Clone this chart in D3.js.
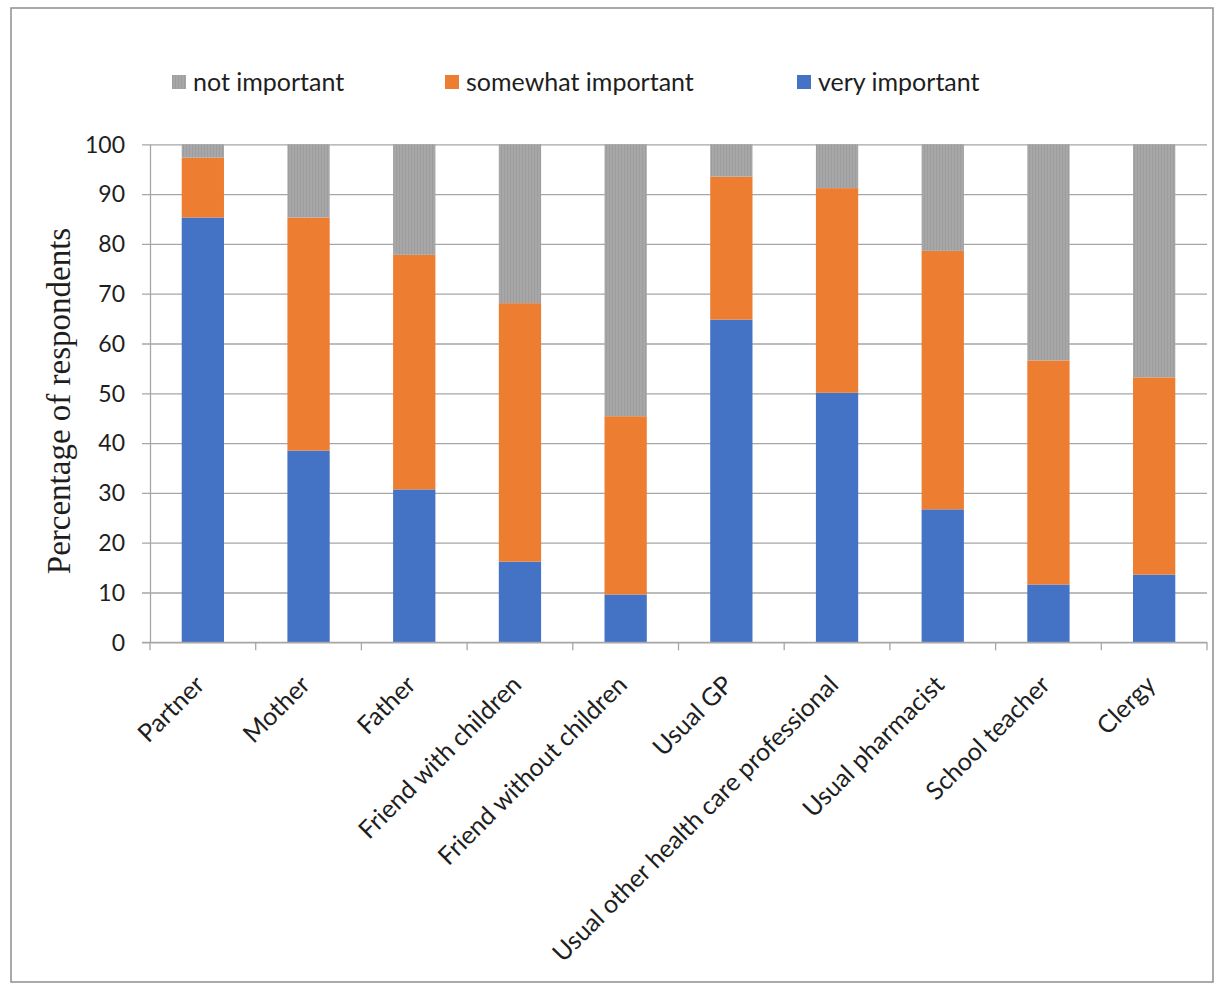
<!DOCTYPE html>
<html>
<head>
<meta charset="utf-8">
<script src="https://cdn.jsdelivr.net/npm/d3@7"></script>
<style>
  html, body { margin: 0; padding: 0; background: #fff; }
  svg { display: block; }
</style>
</head>
<body>
<svg id="chart" width="1217" height="985"></svg>
<script>
// Who matters in the decision: share of respondents by rated importance
const categories = [
  "Partner", "Mother", "Father", "Friend with children", "Friend without children",
  "Usual GP", "Usual other health care professional", "Usual pharmacist",
  "School teacher", "Clergy"
];
const veryImportant     = [85.3, 38.5, 30.7, 16.2,  9.6, 64.8, 50.1, 26.7, 11.6, 13.6];
const somewhatImportant = [12.0, 46.8, 47.1, 51.9, 35.8, 28.7, 41.1, 51.9, 45.0, 39.6];
const notImportant      = [ 2.7, 14.7, 22.2, 31.9, 54.6,  6.5,  8.8, 21.4, 43.4, 46.8];

const seriesKeys   = ["very important", "somewhat important", "not important"];
const legendOrder  = ["not important", "somewhat important", "very important"];
const yTicks       = [0, 10, 20, 30, 40, 50, 60, 70, 80, 90, 100];
const yTitle       = "Percentage of respondents";

const colors = {
  "very important": "#4472c4",
  "somewhat important": "#ed7d31",
  "not important": "url(#greyTexture)"
};

const rows = categories.map((c, i) => ({
  category: c,
  "very important": veryImportant[i],
  "somewhat important": somewhatImportant[i],
  "not important": notImportant[i]
}));

const svg = d3.select("#chart");
const sansFont = "Lato, 'Open Sans', sans-serif";
const gridColor = "#a6a6a6";
const textColor = "#1e1e1e";

// textured grey fill for the "not important" segments
const defs = svg.append("defs");
const pat = defs.append("pattern")
  .attr("id", "greyTexture")
  .attr("patternUnits", "userSpaceOnUse")
  .attr("width", 3).attr("height", 3);
pat.append("rect").attr("width", 3).attr("height", 3).attr("fill", "#a7a7a7");
pat.append("rect").attr("width", 1).attr("height", 3).attr("fill", "#9d9d9d");

// chart frame
svg.append("rect")
  .attr("x", 11).attr("y", 8)
  .attr("width", 1202).attr("height", 974)
  .attr("fill", "#fff")
  .attr("stroke", "#8e8e8e").attr("stroke-width", 1.5);

const plot = { left: 150, right: 1207, top: 144.3, bottom: 642.3 };

const x = d3.scaleBand()
  .domain(categories)
  .range([plot.left, plot.right])
  .paddingInner(0.6)
  .paddingOuter(0.3);

const y = d3.scaleLinear()
  .domain([0, 100])
  .range([plot.bottom, plot.top]);

// horizontal gridlines with short ticks left of the axis
const yAxis = d3.axisLeft(y)
  .tickValues(yTicks)
  .tickSize(-(plot.right - plot.left))
  .tickSizeOuter(0)
  .tickPadding(0)
  .tickFormat("");
const gy = svg.append("g")
  .attr("transform", `translate(${plot.left},0)`)
  .call(yAxis);
gy.select(".domain").attr("stroke", gridColor).attr("stroke-width", 1.3);
gy.selectAll(".tick line")
  .attr("x1", -8)
  .attr("stroke", gridColor).attr("stroke-width", 1.3);

// y tick labels
svg.append("g").selectAll("text")
  .data(yTicks)
  .join("text")
  .attr("x", 125)
  .attr("y", d => y(d))
  .attr("dy", "0.36em")
  .attr("text-anchor", "end")
  .attr("font-family", sansFont)
  .attr("font-size", 23)
  .attr("fill", textColor)
  .text(d => d);

// stacked bars
const stack = d3.stack().keys(seriesKeys);
const layers = stack(rows);

svg.append("g").selectAll("g")
  .data(layers)
  .join("g")
  .attr("fill", d => colors[d.key])
  .selectAll("rect")
  .data(d => d)
  .join("rect")
  .attr("x", d => x(d.data.category))
  .attr("width", x.bandwidth())
  .attr("y", d => y(d[1]))
  .attr("height", d => y(d[0]) - y(d[1]));

// x axis baseline with ticks between categories
const xAxisG = svg.append("g");
xAxisG.append("line")
  .attr("x1", plot.left - 8).attr("x2", plot.right)
  .attr("y1", plot.bottom).attr("y2", plot.bottom)
  .attr("stroke", gridColor).attr("stroke-width", 1.3);
const boundaries = d3.range(categories.length + 1)
  .map(i => plot.left + i * x.step());
xAxisG.selectAll("line.tick")
  .data(boundaries)
  .join("line")
  .attr("class", "tick")
  .attr("x1", d => d).attr("x2", d => d)
  .attr("y1", plot.bottom).attr("y2", plot.bottom + 8)
  .attr("stroke", gridColor).attr("stroke-width", 1.3);

// rotated category labels
svg.append("g").selectAll("text")
  .data(categories)
  .join("text")
  .attr("transform", d => `translate(${x(d) + x.bandwidth() / 2 + 3},${plot.bottom + 44}) rotate(-45)`)
  .attr("text-anchor", "end")
  .attr("font-family", sansFont)
  .attr("font-size", 25)
  .attr("fill", textColor)
  .text(d => d);

// y axis title
svg.append("text")
  .attr("transform", "translate(70,401) rotate(-90)")
  .attr("text-anchor", "middle")
  .attr("font-family", "'Liberation Serif', 'DejaVu Serif', serif")
  .attr("font-size", 33)
  .attr("fill", textColor)
  .text(yTitle);

// legend
const legendX = { "not important": 172, "somewhat important": 445, "very important": 797 };
const legend = svg.append("g").selectAll("g")
  .data(legendOrder)
  .join("g")
  .attr("transform", d => `translate(${legendX[d]},75)`);
legend.append("rect")
  .attr("width", 14).attr("height", 14)
  .attr("fill", d => colors[d]);
legend.append("text")
  .attr("x", 21).attr("y", 7)
  .attr("dy", "0.36em")
  .attr("font-family", sansFont)
  .attr("font-size", 25)
  .attr("fill", textColor)
  .text(d => d);
</script>
</body>
</html>
